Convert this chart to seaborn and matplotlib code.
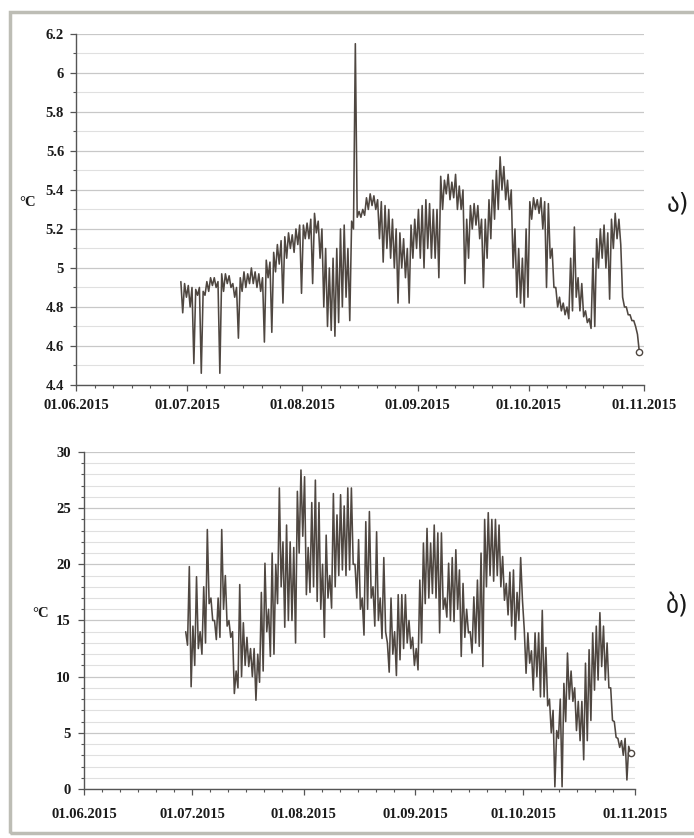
import numpy as np
import pandas as pd
import matplotlib
import matplotlib.pyplot as plt
import matplotlib.dates as mdates
from matplotlib.ticker import MultipleLocator, FuncFormatter
from matplotlib.patches import Rectangle
import seaborn as sns
matplotlib.use('Agg')

# daily readings, 29.06.2015 .. 30.10.2015 (one high and one low per day)
start_day = "2015-06-29"

# panel ა) water temperature, °C
top_hi = [
    4.93, 4.92, 4.91, 4.90, 4.89, 4.90, 4.88,
    4.93, 4.95, 4.95, 4.93, 4.97, 4.97, 4.96,
    4.92, 4.90, 4.95, 4.98, 4.97, 5.00, 4.98,
    4.97, 4.95, 5.04, 5.03, 5.08, 5.12, 5.14,
    5.16, 5.18, 5.17, 5.20, 5.22, 5.22, 5.23,
    5.25, 5.28, 5.24, 5.20, 5.10, 5.00, 5.05,
    5.10, 5.20, 5.22, 5.10, 5.24, 6.15, 5.29,
    5.30, 5.36, 5.38, 5.37, 5.35, 5.34, 5.32,
    5.30, 5.25, 5.20, 5.18, 5.15, 5.10, 5.22,
    5.25, 5.30, 5.32, 5.35, 5.33, 5.30, 5.30,
    5.47, 5.45, 5.48, 5.44, 5.48, 5.42, 5.40,
    5.25, 5.32, 5.33, 5.32, 5.25, 5.25, 5.35,
    5.45, 5.50, 5.57, 5.52, 5.45, 5.40, 5.20,
    5.10, 5.05, 5.20, 5.34, 5.36, 5.35, 5.36,
    5.34, 5.33, 5.10, 4.90, 4.85, 4.82, 4.80,
    5.05, 5.21, 4.95, 4.92, 4.78, 4.74, 5.05,
    5.15, 5.20, 5.22, 5.18, 5.25, 5.28, 5.25,
    4.85, 4.80, 4.76, 4.73, 4.66,
]
top_lo = [
    4.77, 4.85, 4.80, 4.51, 4.86, 4.46, 4.86,
    4.88, 4.91, 4.90, 4.46, 4.88, 4.92, 4.90,
    4.85, 4.64, 4.88, 4.90, 4.92, 4.92, 4.90,
    4.88, 4.62, 4.95, 4.67, 4.98, 5.02, 4.82,
    5.05, 5.10, 5.08, 5.12, 4.87, 5.15, 5.15,
    4.92, 5.18, 5.05, 4.80, 4.70, 4.68, 4.65,
    4.72, 4.80, 4.85, 4.73, 5.20, 5.26, 5.26,
    5.27, 5.30, 5.32, 5.30, 5.15, 5.03, 5.10,
    5.05, 5.00, 4.82, 5.00, 4.95, 4.82, 5.05,
    5.10, 5.05, 5.00, 5.10, 5.05, 5.05, 4.95,
    5.30, 5.38, 5.35, 5.36, 5.30, 5.30, 4.92,
    5.05, 5.20, 5.22, 5.15, 4.90, 5.05, 5.15,
    5.25, 5.30, 5.40, 5.35, 5.30, 5.00, 4.85,
    4.82, 4.80, 4.85, 5.25, 5.30, 5.28, 5.20,
    4.90, 5.05, 4.90, 4.80, 4.78, 4.76, 4.74,
    4.78, 4.85, 4.78, 4.75, 4.72, 4.69, 4.70,
    5.00, 5.05, 5.00, 4.84, 5.10, 5.15, 5.12,
    4.80, 4.76, 4.73, 4.70, 4.57,
]

# panel ბ) air temperature, °C
bot_hi = [
    14.0, 19.8, 14.5, 18.9, 14.0, 18.0, 23.1,
    17.0, 15.0, 17.0, 23.1, 19.0, 15.0, 14.0,
    10.5, 18.2, 14.8, 13.5, 12.5, 12.5, 12.0,
    17.5, 20.1, 16.0, 21.0, 20.0, 26.8, 22.0,
    23.5, 22.0, 21.5, 26.5, 28.4, 27.8, 21.5,
    25.5, 27.5, 25.5, 20.0, 22.6, 19.0, 26.3,
    24.4, 26.2, 25.2, 26.8, 26.8, 20.0, 22.2,
    17.0, 23.8, 24.7, 18.0, 22.9, 17.0, 20.6,
    13.0, 17.0, 14.0, 17.3, 17.3, 17.3, 15.0,
    13.5, 12.5, 18.6, 21.9, 23.2, 21.9, 23.5,
    22.8, 22.8, 17.0, 20.1, 20.6, 21.3, 19.5,
    18.3, 16.0, 14.0, 17.1, 18.6, 21.0, 24.0,
    24.6, 24.0, 24.0, 23.5, 20.7, 18.3, 19.3,
    19.5, 17.5, 20.6, 14.2, 13.9, 12.3, 13.9,
    13.9, 15.9, 12.6, 8.0, 7.0, 5.2, 8.0,
    9.4, 12.1, 10.5, 9.0, 7.8, 7.8, 11.2,
    12.4, 13.9, 14.5, 15.7, 14.5, 13.0, 9.0,
    6.0, 4.5, 4.3, 4.5, 3.8,
]
bot_lo = [
    12.8, 9.1, 11.0, 12.5, 12.0, 13.0, 16.5,
    15.0, 13.3, 13.5, 16.0, 14.5, 13.5, 8.5,
    9.0, 10.0, 11.0, 10.9, 10.0, 7.9, 9.5,
    10.5, 14.0, 11.8, 12.0, 16.5, 18.0, 14.4,
    15.0, 15.0, 13.0, 21.0, 22.5, 17.3, 17.5,
    18.0, 16.7, 16.0, 13.5, 17.0, 16.1, 18.0,
    19.0, 19.5, 19.0, 19.5, 20.0, 17.0, 16.0,
    13.7, 16.0, 17.0, 14.5, 15.0, 13.4, 14.0,
    10.4, 12.0, 10.1, 11.5, 12.5, 13.0, 12.5,
    11.0, 10.6, 13.0, 16.5, 17.0, 17.4, 17.0,
    13.9, 16.0, 15.3, 15.0, 14.9, 16.0, 11.8,
    13.5, 13.9, 12.1, 13.0, 12.7, 10.9, 18.0,
    19.0, 18.5, 19.0, 18.0, 16.8, 15.5, 14.5,
    13.3, 15.0, 16.8, 10.3, 11.2, 8.8, 10.0,
    8.2, 8.2, 7.4, 5.0, 0.2, 4.5, 0.2,
    6.0, 8.0, 7.8, 5.2, 4.3, 2.6, 4.3,
    6.1, 8.8, 9.7, 10.9, 9.7, 9.0, 6.1,
    4.6, 3.7, 3.0, 0.8, 3.2,
]

month_ticks = pd.date_range("2015-06-01", "2015-11-01", freq="MS")
panel_labels = ["ა)", "ბ)"]
unit_label = "°C"


def to_frame(hi, lo):
    days = pd.date_range(start_day, periods=len(hi), freq="D")
    t = []
    v = []
    for d, h, l in zip(days, hi, lo):
        t.append(d + pd.Timedelta(hours=6))
        v.append(h)
        t.append(d + pd.Timedelta(hours=18))
        v.append(l)
    return pd.DataFrame({"time": t, "temp": v})


sns.set_theme(style="white")
plt.rcParams['font.family'] = ['Liberation Serif', 'DejaVu Serif']

fig = plt.figure(figsize=(6.94, 8.38), dpi=100)
fig.patch.set_facecolor("white")
fig.patches.append(Rectangle((0.0144, 0.006), 1.0, 0.98, transform=fig.transFigure,
                             fill=False, edgecolor="#bdbdb5", lw=2.5, zorder=0))

ax1 = fig.add_axes([0.1095, 0.5406, 0.8184, 0.4189])
ax2 = fig.add_axes([0.121, 0.0585, 0.794, 0.4021])

line_color = "#4f4741"
panels = [
    (ax1, to_frame(top_hi, top_lo), (4.4, 6.2), 0.2, 0.1, 6.0, 4.5),
    (ax2, to_frame(bot_hi, bot_lo), (0, 30), 5, 1, 10, 5.5),
]

for k, (ax, df, ylim, major, minor, xpad, ypad) in enumerate(panels):
    sns.lineplot(data=df, x="time", y="temp", ax=ax, color=line_color,
                 lw=1.15, estimator=None, sort=False, zorder=3)
    last = df.iloc[-1]
    ax.plot([last["time"]], [last["temp"]], marker="o", ms=4.5, mfc="white",
            mec=line_color, mew=1, zorder=4)

    ax.set_xlim(month_ticks[0], month_ticks[-1])
    ax.set_ylim(*ylim)
    ax.xaxis.set_major_locator(mdates.MonthLocator(bymonthday=1))
    ax.xaxis.set_minor_locator(mdates.DayLocator(bymonthday=[6, 11, 16, 21, 26]))
    ax.xaxis.set_major_formatter(mdates.DateFormatter("%d.%m.%Y"))
    ax.yaxis.set_major_locator(MultipleLocator(major))
    ax.yaxis.set_minor_locator(MultipleLocator(minor))
    ax.yaxis.set_major_formatter(FuncFormatter(lambda v, p: f"{v:g}"))

    ax.grid(which="major", axis="y", color="#c8c8c8", lw=0.9)
    ax.grid(which="minor", axis="y", color="#e0e0e0", lw=0.8)
    ax.grid(which="both", axis="x", visible=False)

    for s in ["top", "right"]:
        ax.spines[s].set_visible(False)
    for s in ["left", "bottom"]:
        ax.spines[s].set_color("#555555")
        ax.spines[s].set_linewidth(1.0)

    ax.tick_params(axis="both", which="major", direction="out", length=4, width=0.9,
                   color="#555555", labelsize=10.5, labelcolor="#1a1a1a")
    ax.tick_params(axis="both", which="minor", direction="out", length=2.5, width=0.8,
                   color="#555555")
    ax.tick_params(axis="x", which="major", pad=xpad)
    ax.tick_params(axis="y", which="major", pad=ypad)
    ax.tick_params(left=True, bottom=True, which="both")
    for lab in ax.get_xticklabels() + ax.get_yticklabels():
        lab.set_fontweight("bold")

    ax.set_xlabel("")
    ax.set_ylabel(unit_label, rotation=0, fontsize=10.5, fontweight="bold", color="#1a1a1a")

ax1.yaxis.set_label_coords(-0.085, 0.50)
ax2.yaxis.set_label_coords(-0.078, 0.50)

fig.text(0.977, 0.757, panel_labels[0], fontsize=18, family="DejaVu Sans",
         ha="center", va="center", color="#1a1a1a")
fig.text(0.975, 0.278, panel_labels[1], fontsize=18, family="DejaVu Sans",
         ha="center", va="center", color="#1a1a1a")

fig.savefig("out.png", dpi=100, facecolor="white")
